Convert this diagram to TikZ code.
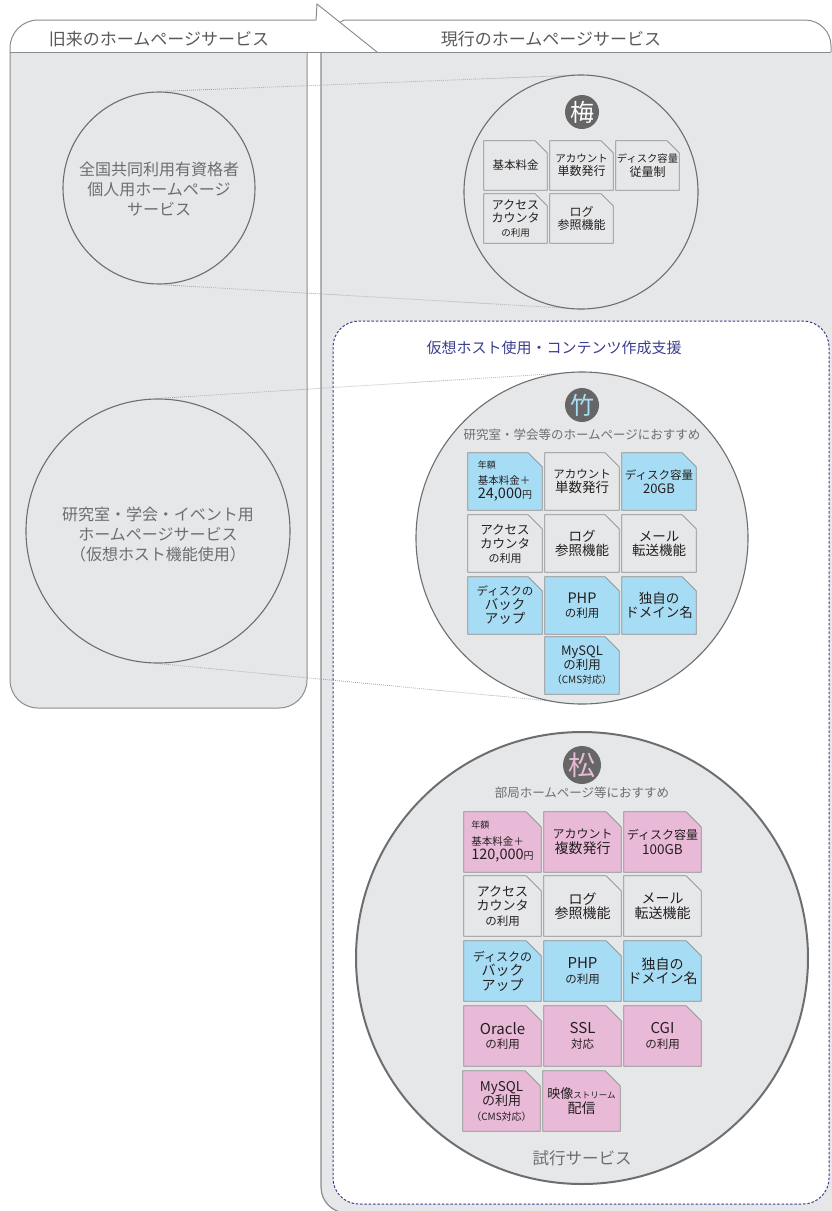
\documentclass[tikz,border=0pt]{standalone}
\usepackage{fontspec}
\setmainfont{Noto Sans CJK JP}
\definecolor{panel}{HTML}{E6E7E8}
\definecolor{edge}{HTML}{8A8C8E}
\definecolor{ring}{HTML}{6D6E71}
\definecolor{txtgray}{HTML}{6D6E71}
\definecolor{hdrtxt}{HTML}{58595B}
\definecolor{bluebox}{HTML}{A7DDF4}
\definecolor{pinkbox}{HTML}{E9BAD7}
\definecolor{navy}{HTML}{3C3F8F}
\definecolor{ink}{HTML}{231F20}
\definecolor{badgegray}{HTML}{666666}
\definecolor{dotgray}{HTML}{9D9FA2}
\newcommand\fsz[1]{\fontsize{#1}{#1}\selectfont}
\pgfdeclarelayer{bgl}
\pgfsetlayers{bgl,main}
\begin{document}
\begin{tikzpicture}[x=1pt,y=-1pt,
  panelsty/.style={fill=panel, draw=edge, line width=1pt},
  ringsty/.style={circle, draw=ring, fill=panel, line width=1.1pt, inner sep=0pt},
  conn/.style={draw=dotgray, line width=0.8pt, dash pattern=on 0.8pt off 1.2pt},
  feat/.style={rectangle, inner sep=0pt, align=center, text=ink},
  umef/.style={feat, minimum width=63pt, minimum height=49pt, font=\fontsize{12}{13.5}\selectfont},
  takef/.style={feat, minimum width=74pt, minimum height=57pt, font=\fontsize{13.5}{14}\selectfont},
  matf/.style={feat, minimum width=77pt, minimum height=60pt, font=\fontsize{14}{14.5}\selectfont},
  badgesty/.style={circle, fill=badgegray, inner sep=0pt, minimum size=34pt, font=\fsz{24}},
  hdr/.style={font=\fsz{17}, text=hdrtxt},
  oldtxt/.style={font=\fontsize{16}{20}\selectfont, text=txtgray, align=center},
  sub/.style={font=\fsz{12.5}, text=txtgray},
  chamf/.style={draw=edge, line width=0.8pt}
]
\useasboundingbox (0,0) rectangle (831,1211);
\begin{pgfonlayer}{bgl}
% header
\draw[edge, line width=1pt, rounded corners=28pt] (10,52) -- (10,20) -- (316,20);
\draw[edge, line width=1pt] (316,20) -- (317,4) -- (377,52);
\draw[edge, line width=1pt] (340,22.4) .. controls (343,20) .. (350,20);
\draw[edge, line width=1pt, rounded corners=26pt] (350,20) -- (831,20) -- (831,80);
% panels
\draw[panelsty, rounded corners=28pt] (10,52) -- (10,708) -- (307,708) -- (307,52);
\fill[panel] (321,52) [rounded corners=26pt] -- (321,1213) [sharp corners] -- (840,1213) -- (840,52) -- cycle;
\draw[edge, line width=1.2pt, rounded corners=26pt] (321,52) -- (321,1213) -- (840,1213);
\draw[edge, line width=1pt] (10,52) -- (831,52);
% dashed box
\draw[navy, line width=1pt, dash pattern=on 2.5pt off 1.8pt, fill=white, rounded corners=26pt] (333,321) rectangle (829,1204);
\end{pgfonlayer}
\node[hdr] (hleft) at (159,39) {旧来のホームページサービス};
\node[hdr] (hright) at (551,39) {現行のホームページサービス};
\node[font=\fsz{15}, text=navy] (title) at (554,348) {仮想ホスト使用・コンテンツ作成支援};
% circles
\begin{pgfonlayer}{bgl}
\node[ringsty, minimum size=192pt] (old1) at (159,188) {};
\node[ringsty, minimum size=264pt] (old2) at (158,531) {};
\draw[conn] (old1.north) -- (581,75);
\draw[conn] (old1.south) -- (581,309);
\draw[conn] (old2.north) -- (582,372);
\draw[conn] (old2.south) -- (582,704);
\node[ringsty, minimum size=234pt] (ume) at (581,192) {};
\node[ringsty, minimum size=332pt] (take) at (582,538) {};
\node[ringsty, minimum size=452pt, line width=2pt] (matsu) at (582,958) {};
\end{pgfonlayer}
\node[oldtxt] (old1txt) at (159,189) {全国共同利用有資格者\\個人用ホームページ\\サービス};
\node[oldtxt] (old2txt) at (158,534) {研究室・学会・イベント用\\ホームページサービス\\（仮想ホスト機能使用）};
% badges
\node[badgesty, text=white] (umeb) at (582,112) {梅};
\node[badgesty, text=bluebox] (takeb) at (582,405) {竹};
\node[badgesty, text=pinkbox, minimum size=38pt, font=\fsz{27}] (matsub) at (582,765) {松};
\node[sub] (takesub) at (582,435) {研究室・学会等のホームページにおすすめ};
\node[sub] (matsusub) at (582,793) {部局ホームページ等におすすめ};
\node[font=\fsz{16.5}, text=txtgray] (trial) at (582,1158) {試行サービス};
% ume boxes
\node[umef] (u1) at (515.5,165.5) {{\fsz{11.5}基本料金}};
\node[umef] (u2) at (581.5,165.5) {{\fsz{10.5}アカウント}\\単数発行};
\node[umef] (u3) at (647.5,165.5) {{\fsz{10.3}ディスク容量}\\従量制};
\node[umef] (u4) at (515.5,218.5) {アクセス\\カウンタ\\{\fsz{9.5}の利用}};
\node[umef] (u5) at (581.5,218.5) {ログ\\参照機能};
% take boxes
\node[takef,align=left] (t1) at (505,481.5) {{\fsz{9}年額}\\[2pt]{\fsz{10.5}基本料金＋}\\{\fsz{14.5}24,000}{\fsz{10}円}};
\node[takef] (t2) at (582,481.5) {{\fsz{11.5}アカウント}\\単数発行};
\node[takef] (t3) at (659,481.5) {{\fsz{11.5}ディスク容量}\\{\fsz{13}20GB}};
\node[takef] (t4) at (505,543.5) {{\fsz{12.5}アクセス}\\{\fsz{12.5}カウンタ}\\{\fsz{11}の利用}};
\node[takef] (t5) at (582,543.5) {ログ\\参照機能};
\node[takef] (t6) at (659,543.5) {メール\\転送機能};
\node[takef] (t7) at (505,605.5) {{\fsz{11.5}ディスクの}\\バック\\アップ};
\node[takef] (t8) at (582,605.5) {{\fsz{14.5}PHP}\\{\fsz{11.5}の利用}};
\node[takef] (t9) at (659,605.5) {独自の\\ドメイン名};
\node[takef] (t10) at (582,665.5) {{\fsz{13}MySQL}\\{\fsz{12.5}の利用}\\{\fsz{10}（CMS対応）}};
% matsu boxes
\node[matf,align=left] (m1) at (502.5,842) {{\fsz{9}年額}\\[2pt]{\fsz{10.5}基本料金＋}\\{\fsz{14.5}120,000}{\fsz{10}円}};
\node[matf] (m2) at (582.5,842) {{\fsz{12}アカウント}\\複数発行};
\node[matf] (m3) at (662.5,842) {{\fsz{12}ディスク容量}\\{\fsz{13.5}100GB}};
\node[matf] (m4) at (502.5,906) {{\fsz{13}アクセス}\\{\fsz{13}カウンタ}\\{\fsz{11.5}の利用}};
\node[matf] (m5) at (582.5,906) {ログ\\参照機能};
\node[matf] (m6) at (662.5,906) {メール\\転送機能};
\node[matf] (m7) at (502.5,971) {{\fsz{12}ディスクの}\\バック\\アップ};
\node[matf] (m8) at (582.5,971) {{\fsz{15}PHP}\\{\fsz{11.5}の利用}};
\node[matf] (m9) at (662.5,971) {独自の\\ドメイン名};
\node[matf] (m10) at (502.5,1036) {{\fsz{15}Oracle}\\{\fsz{11.5}の利用}};
\node[matf] (m11) at (582.5,1036) {{\fsz{15}SSL}\\{\fsz{11.5}対応}};
\node[matf] (m12) at (662.5,1036) {{\fsz{15}CGI}\\{\fsz{11.5}の利用}};
\node[matf] (m13) at (501.5,1101) {{\fsz{13.5}MySQL}\\{\fsz{13}の利用}\\{\fsz{10}（CMS対応）}};
\node[matf] (m14) at (581.5,1101) {{\fsz{13}映像}{\fsz{8.5}ストリーム}\\配信};
% chamfered box outlines, behind the texts
\begin{pgfonlayer}{bgl}
\foreach \n/\f/\c in {u1/panel/12,u2/panel/12,u3/panel/12,u4/panel/12,u5/panel/12,
  t1/bluebox/14,t2/panel/14,t3/bluebox/14,t4/panel/14,t5/panel/14,t6/panel/14,
  t7/bluebox/14,t8/bluebox/14,t9/bluebox/14,t10/bluebox/14,
  m1/pinkbox/15,m2/pinkbox/15,m3/pinkbox/15,m4/panel/15,m5/panel/15,m6/panel/15,
  m7/bluebox/15,m8/bluebox/15,m9/bluebox/15,m10/pinkbox/15,m11/pinkbox/15,m12/pinkbox/15,
  m13/pinkbox/15,m14/pinkbox/15}
  \path[chamf, fill=\f] (\n.north west) -- ([xshift=-\c pt]\n.north east) -- ([yshift=-\c pt]\n.north east) -- (\n.south east) -- (\n.south west) -- cycle;
\end{pgfonlayer}
\end{tikzpicture}
\end{document}
